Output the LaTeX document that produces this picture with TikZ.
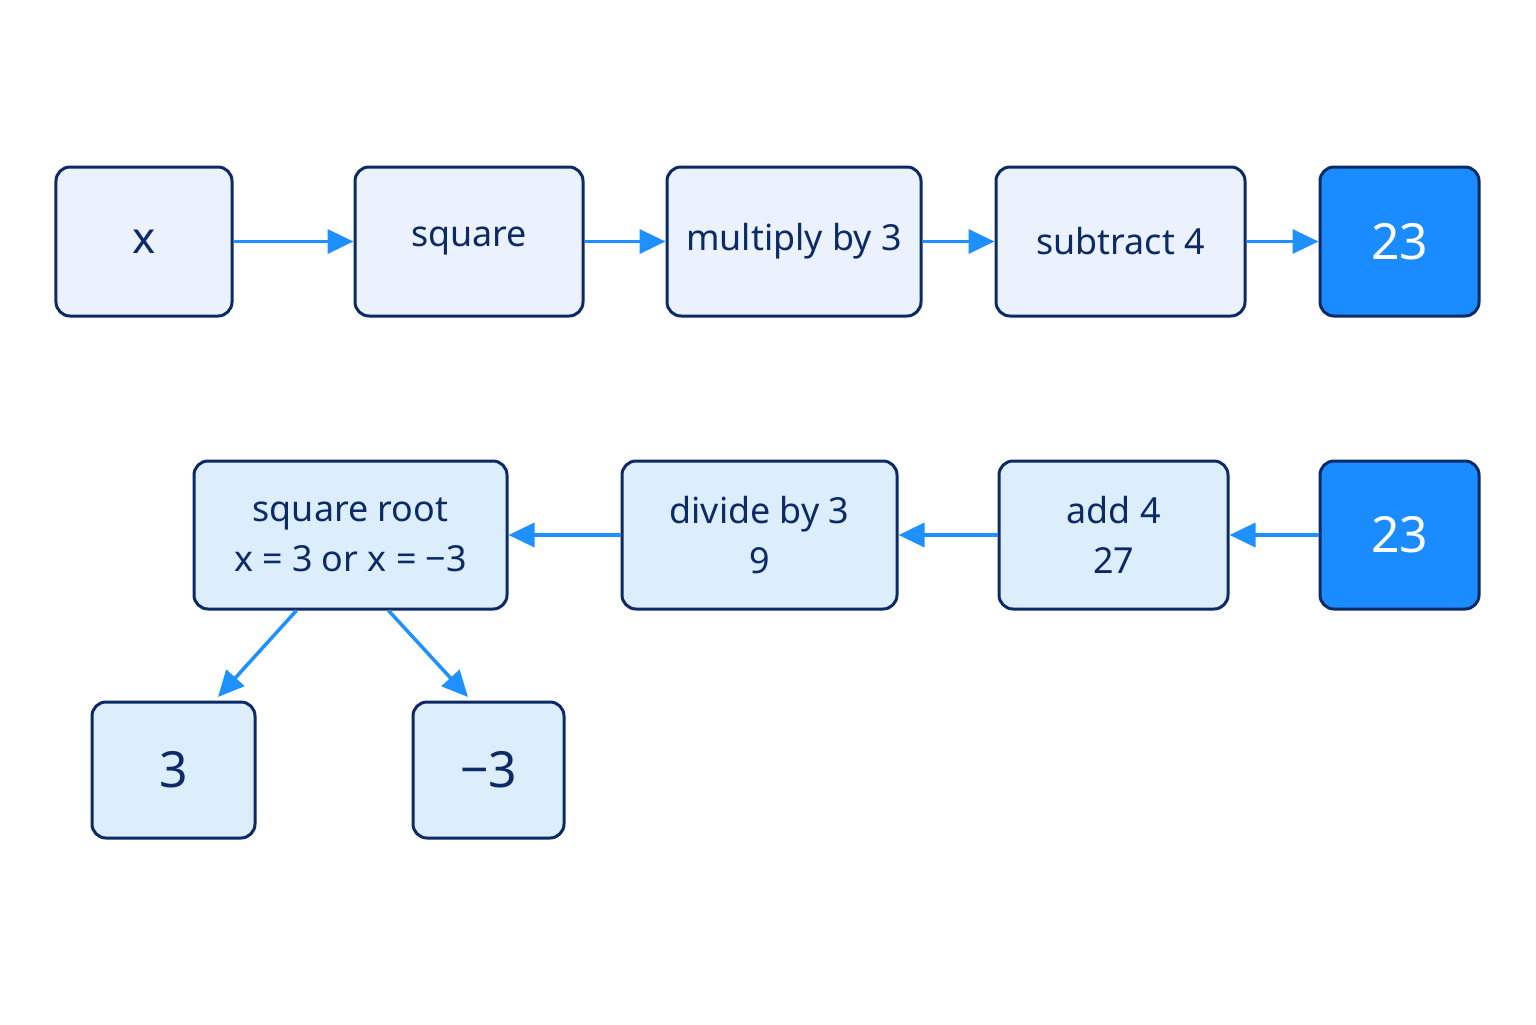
\documentclass[tikz,border=0pt]{standalone}
\usepackage{fontspec}
\setmainfont{Noto Sans}
\usetikzlibrary{arrows.meta}
\definecolor{navy}{HTML}{0B2A66}
\definecolor{topfill}{HTML}{EBF2FD}
\definecolor{botfill}{HTML}{DCEEFB}
\definecolor{hot}{HTML}{1A8CFF}
\definecolor{arr}{HTML}{1E90FF}
\begin{document}
\begin{tikzpicture}[x=1bp,y=-1bp,
  box/.style={draw=navy,line width=3bp,rounded corners=14bp,inner sep=0pt,align=center,text=navy,font=\fontsize{36}{50}\selectfont},
  top/.style={box,fill=topfill},
  bot/.style={box,fill=botfill},
  hotb/.style={box,fill=hot,text=white,font=\fontsize{50}{60}\selectfont},
  ar/.style={draw=arr,line width=3.5bp,-{Triangle[length=26bp,width=24bp]}}]
\useasboundingbox[fill=white] (0,0) rectangle (1536,1024);
\node[top,minimum width=176bp,minimum height=149bp,font=\fontsize{44}{50}\selectfont\bfseries] (x) at (144,241.5) {x};
\node[top,minimum width=228bp,minimum height=149bp] (sq) at (469,241.5) {square};
\node[top,minimum width=254bp,minimum height=149bp] (mul) at (794,241.5) {multiply by 3};
\node[top,minimum width=249bp,minimum height=149bp] (sub) at (1120.5,241.5) {subtract 4};
\node[hotb,minimum width=159bp,minimum height=149bp] (t1) at (1399.5,241.5) {23};
\node[bot,minimum width=313bp,minimum height=148bp] (sr) at (350.5,535) {square root\\x = 3 or x = −3};
\node[bot,minimum width=275bp,minimum height=148bp] (dv) at (759.5,535) {divide by 3\\9};
\node[bot,minimum width=229bp,minimum height=148bp] (ad) at (1113.5,535) {add 4\\27};
\node[hotb,minimum width=159bp,minimum height=148bp] (t2) at (1399.5,535) {23};
\node[bot,minimum width=163bp,minimum height=136bp,font=\fontsize{50}{60}\selectfont] (p3) at (173.5,770) {3};
\node[bot,minimum width=151bp,minimum height=136bp,font=\fontsize{50}{60}\selectfont] (m3) at (488.5,770) {−3};
\draw[ar] (x.east) -- (sq.west);
\draw[ar] (sq.east) -- (mul.west);
\draw[ar] (mul.east) -- (sub.west);
\draw[ar] (sub.east) -- (t1.west);
\draw[ar] (t2.west) -- (ad.east);
\draw[ar] (ad.west) -- (dv.east);
\draw[ar] (dv.west) -- (sr.east);
\coordinate (a1) at (218,697);
\coordinate (a2) at (468,697);
\draw[ar] (sr.south west) ++(104,0) -- (a1);
\draw[ar] (sr.south west) ++(196,0) -- (a2);
\end{tikzpicture}
\end{document}
